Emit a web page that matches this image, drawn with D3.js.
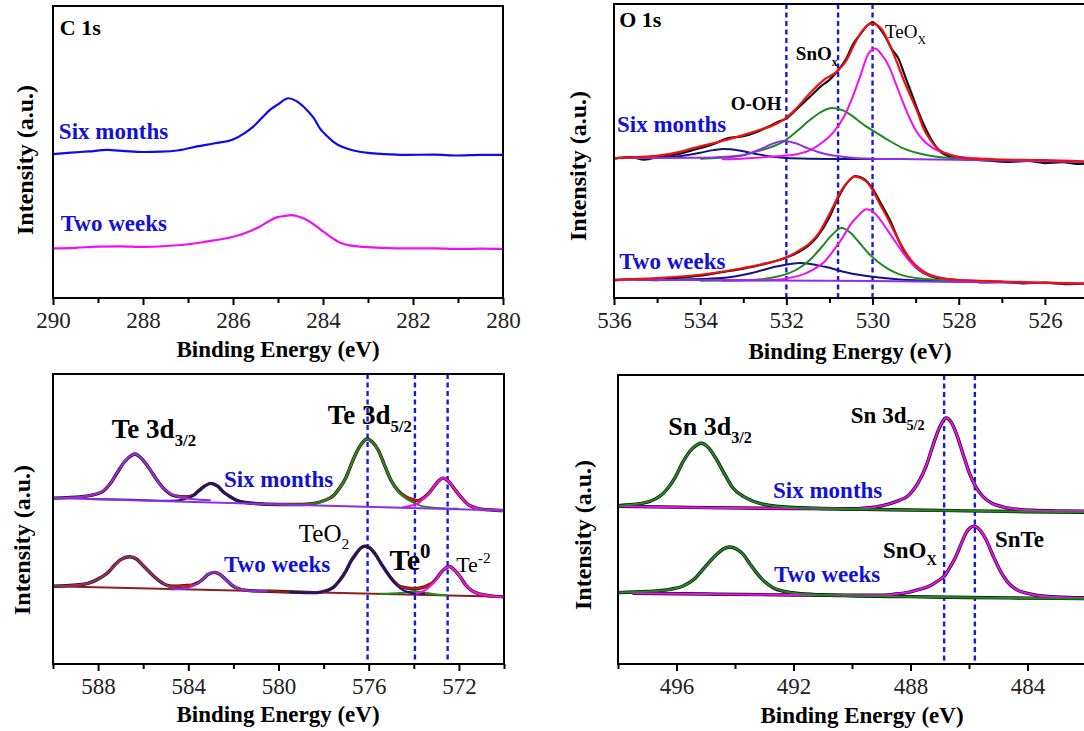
<!DOCTYPE html>
<html>
<head>
<meta charset="utf-8">
<script src="https://cdn.jsdelivr.net/npm/d3@7"></script>
<style>
  body { margin: 0; background: #fff; }
  text { font-family: 'Liberation Serif', 'Times New Roman', serif; }
</style>
</head>
<body>
<div id="chart"></div>
<script>
// values: [binding energy (eV), intensity (a.u., 0-100 of panel height)]

// C 1s
const c1sSixMonths = [[290.0, 49.3], [289.6, 49.8], [289.2, 50.2], [288.8, 50.7], [288.4, 50.3], [288.0, 50.0], [287.6, 50.1], [287.2, 50.6], [286.8, 51.9], [286.4, 53.0], [286.0, 54.3], [285.75, 56.4], [285.55, 58.7], [285.35, 61.8], [285.18, 64.4], [285.0, 66.3], [284.77, 68.4], [284.6, 67.5], [284.36, 64.4], [284.2, 61.5], [284.07, 58.1], [283.9, 55.3], [283.77, 53.5], [283.55, 51.6], [283.32, 50.5], [283.0, 49.7], [282.66, 49.3], [282.2, 49.0], [281.54, 49.1], [281.0, 48.8], [280.5, 49.0], [280.0, 49.0]]
const c1sTwoWeeks = [[290.0, 17.0], [289.5, 17.2], [289.0, 17.6], [288.5, 17.7], [288.0, 17.5], [287.5, 17.8], [287.0, 18.4], [286.6, 19.3], [286.2, 20.3], [285.85, 21.6], [285.6, 23.0], [285.41, 24.4], [285.2, 26.3], [285.03, 27.6], [284.85, 28.1], [284.7, 28.4], [284.55, 27.9], [284.36, 26.7], [284.15, 24.6], [283.99, 22.7], [283.8, 20.6], [283.62, 18.9], [283.4, 18.0], [283.18, 17.6], [282.7, 17.2], [282.29, 17.0], [281.5, 17.0], [281.0, 16.8], [280.5, 16.9], [280.0, 16.8]]

// O 1s, six months
const o1sSixRaw = [[536.0, 47.4], [535.6, 47.9], [535.3, 47.1], [534.9, 48.2], [534.5, 49.0], [534.1, 50.6], [533.7, 52.3], [533.35, 54.4], [533.0, 55.0], [532.7, 56.4], [532.4, 58.4], [532.15, 60.2], [532.0, 61.0], [531.8, 63.7], [531.6, 66.4], [531.4, 69.2], [531.2, 72.0], [531.0, 74.2], [530.8, 77.4], [530.6, 81.7], [530.45, 86.4], [530.3, 89.4], [530.1, 93.0], [530.0, 93.8], [529.85, 92.0], [529.7, 88.8], [529.55, 84.6], [529.4, 81.5], [529.25, 75.6], [529.1, 69.8], [528.95, 63.8], [528.8, 58.6], [528.6, 53.0], [528.4, 49.4], [528.2, 48.1], [528.0, 47.3], [527.6, 47.0], [527.2, 46.6], [526.8, 46.3], [526.4, 46.6], [526.0, 45.9], [525.6, 46.2], [525.2, 45.6], [525.0, 45.8]]
const o1sSixFit = [[536.0, 47.6], [535.5, 47.9], [534.93, 48.5], [534.5, 49.6], [534.16, 51.0], [533.8, 52.3], [533.39, 53.8], [533.0, 55.4], [532.61, 57.2], [532.3, 58.8], [532.07, 60.6], [531.8, 64.0], [531.45, 69.7], [531.1, 74.5], [530.83, 77.0], [530.6, 81.0], [530.45, 85.5], [530.22, 91.2], [530.02, 93.4], [529.85, 92.4], [529.75, 90.6], [529.6, 86.0], [529.44, 80.4], [529.3, 75.0], [529.13, 69.1], [528.95, 63.0], [528.82, 57.8], [528.65, 53.6], [528.51, 51.0], [528.3, 49.2], [528.05, 48.1], [527.58, 47.3], [527.0, 47.1], [526.0, 46.9], [525.0, 46.4]]
const o1sSixHigh = [[536.0, 47.6], [535.0, 47.7], [534.5, 48.2], [534.0, 49.4], [533.7, 50.3], [533.45, 50.7], [533.1, 50.2], [532.7, 49.0], [532.3, 48.0], [532.0, 47.6], [531.5, 47.4], [530.5, 47.3], [529.5, 47.3]]
const o1sSixOOH = [[536.0, 47.6], [535.0, 47.6], [534.2, 47.7], [533.6, 47.9], [533.0, 48.6], [532.6, 50.6], [532.3, 52.6], [532.07, 53.4], [531.8, 52.7], [531.5, 50.9], [531.1, 49.0], [530.6, 47.9], [530.0, 47.4], [529.0, 47.2], [528.0, 47.0], [527.0, 46.8], [526.0, 46.5], [525.0, 46.2]]
const o1sSixSnOx = [[534.0, 47.4], [533.16, 48.1], [532.7, 49.8], [532.3, 51.6], [532.07, 53.2], [531.75, 56.8], [531.45, 60.6], [531.2, 63.2], [530.95, 64.6], [530.7, 63.9], [530.45, 61.7], [530.2, 58.9], [529.9, 56.1], [529.6, 53.4], [529.3, 51.0], [529.0, 49.5], [528.7, 48.5], [528.36, 47.8], [527.8, 47.3], [527.2, 47.1]]
const o1sSixTeOx = [[533.5, 47.2], [533.16, 47.3], [532.5, 47.9], [531.76, 48.9], [531.4, 50.6], [531.14, 53.2], [530.9, 56.5], [530.68, 61.2], [530.5, 67.0], [530.3, 74.8], [530.1, 83.0], [529.94, 84.9], [529.8, 83.0], [529.6, 78.2], [529.45, 72.5], [529.3, 66.8], [529.15, 61.5], [528.98, 56.6], [528.8, 53.3], [528.6, 51.0], [528.3, 49.2], [528.05, 48.1], [527.6, 47.5], [527.2, 47.3]]

// O 1s, two weeks
const o1sTwoRaw = [[536.0, 6.0], [535.5, 6.4], [535.0, 6.1], [534.5, 6.9], [534.0, 7.6], [533.5, 8.8], [533.0, 10.0], [532.5, 11.6], [532.0, 13.8], [531.6, 16.6], [531.3, 20.6], [531.0, 27.5], [530.8, 34.0], [530.6, 39.0], [530.4, 41.5], [530.2, 40.5], [530.0, 37.2], [529.8, 32.0], [529.6, 26.6], [529.4, 19.8], [529.2, 14.2], [529.0, 10.5], [528.8, 8.4], [528.5, 6.7], [528.2, 6.2], [527.8, 5.8], [527.4, 5.3], [527.0, 5.5], [526.5, 5.0], [526.0, 5.2], [525.5, 4.7], [525.0, 4.9]]
const o1sTwoFit = [[536.0, 6.2], [535.0, 6.8], [534.0, 7.9], [533.0, 10.2], [532.5, 11.7], [532.03, 13.6], [531.7, 16.2], [531.45, 18.7], [531.25, 22.0], [531.07, 26.6], [530.9, 31.5], [530.76, 35.7], [530.6, 39.0], [530.41, 41.3], [530.25, 40.6], [530.1, 38.9], [530.0, 36.8], [529.85, 32.5], [529.67, 27.7], [529.5, 22.7], [529.36, 18.7], [529.2, 14.8], [529.05, 11.9], [528.85, 9.4], [528.67, 7.9], [528.4, 6.8], [528.05, 6.2], [527.0, 5.6], [526.0, 5.2], [525.0, 4.9]]
const o1sTwoOOH = [[535.5, 6.2], [534.5, 6.3], [533.5, 6.8], [532.8, 8.5], [532.2, 10.8], [531.68, 11.9], [531.1, 10.6], [530.6, 8.7], [530.0, 7.2], [529.3, 6.2], [528.5, 5.8], [528.0, 5.7]]
const o1sTwoSnOx = [[534.0, 5.9], [533.0, 6.0], [532.2, 7.3], [531.7, 10.2], [531.45, 13.0], [531.2, 17.0], [530.95, 21.3], [530.72, 23.8], [530.5, 22.0], [530.3, 18.7], [530.1, 15.3], [529.9, 12.6], [529.65, 10.0], [529.4, 8.2], [528.9, 6.6], [528.2, 6.0], [527.5, 5.7]]
const o1sTwoTeOx = [[533.5, 5.9], [532.5, 6.0], [531.7, 7.6], [531.4, 9.5], [531.1, 12.6], [530.9, 16.3], [530.7, 20.4], [530.5, 25.2], [530.35, 27.7], [530.14, 30.2], [530.0, 29.5], [529.85, 27.2], [529.65, 23.0], [529.45, 18.7], [529.25, 14.5], [529.1, 11.9], [528.9, 9.5], [528.7, 7.9], [528.4, 6.8], [528.1, 6.2], [527.0, 5.6]]
const o1sTwoBase = [[536.0, 6.2], [533.0, 6.0], [530.0, 5.8], [527.0, 5.3], [525.0, 4.9]]

// Te 3d, six months
const te3dSixEnv = [[590.0, 57.2], [588.7, 57.7], [587.86, 59.2], [587.5, 61.8], [587.14, 66.1], [586.8, 70.0], [586.5, 72.0], [586.36, 72.4], [586.1, 71.0], [585.71, 67.2], [585.4, 63.5], [585.14, 60.9], [584.6, 58.0], [584.1, 57.6], [583.8, 58.1], [583.57, 59.5], [583.3, 61.2], [583.0, 62.3], [582.7, 61.3], [582.43, 59.2], [582.1, 57.5], [581.86, 56.4], [581.29, 55.5], [580.0, 55.0], [579.0, 55.0], [578.43, 55.4], [578.0, 56.3], [577.57, 58.0], [577.3, 60.6], [577.0, 64.4], [576.75, 69.3], [576.5, 73.6], [576.25, 76.6], [576.07, 77.6], [575.85, 76.6], [575.57, 73.6], [575.3, 68.6], [575.0, 63.2], [574.7, 59.8], [574.43, 58.0], [574.0, 56.6], [573.8, 56.3], [573.57, 57.3], [573.3, 59.2], [573.07, 61.5], [572.85, 63.5], [572.69, 64.1], [572.45, 62.9], [572.14, 59.8], [571.85, 57.0], [571.57, 54.9], [571.3, 53.9], [571.0, 53.4], [570.5, 53.1], [570.0, 52.9]]
const te3dSixBase = [[590.0, 57.2], [570.0, 52.9]]
const te3dSix32 = [[590.0, 57.2], [589.0, 57.4], [588.3, 58.3], [587.86, 59.4], [587.5, 61.8], [587.14, 66.1], [586.8, 70.0], [586.5, 72.0], [586.36, 72.4], [586.1, 71.0], [585.71, 67.2], [585.4, 63.5], [585.14, 60.9], [584.8, 58.8], [584.43, 57.7], [583.86, 56.9], [583.0, 56.5]]
const te3dSixSat = [[588.5, 56.9], [586.5, 56.6], [585.0, 56.3], [584.5, 56.4], [584.14, 56.9], [583.8, 58.0], [583.57, 59.5], [583.3, 61.2], [583.0, 62.3], [582.7, 61.3], [582.43, 59.2], [582.1, 57.5], [581.86, 56.4], [581.29, 55.5], [580.5, 55.2]]
const te3dSix52 = [[580.0, 55.0], [579.0, 55.0], [578.43, 55.3], [578.0, 56.2], [577.57, 58.0], [577.3, 60.6], [577.0, 64.4], [576.75, 69.3], [576.5, 73.6], [576.25, 76.6], [576.07, 77.6], [575.85, 76.6], [575.57, 73.6], [575.3, 68.6], [575.0, 63.2], [574.7, 59.6], [574.43, 57.5], [574.0, 55.6], [573.71, 54.6], [573.0, 53.8], [572.0, 53.5]]
const te3dSixTe2 = [[574.5, 54.0], [574.14, 54.6], [573.8, 55.4], [573.57, 56.9], [573.3, 59.0], [573.07, 61.5], [572.85, 63.5], [572.69, 64.1], [572.45, 62.9], [572.14, 59.8], [571.85, 57.0], [571.57, 54.9], [571.3, 53.9], [571.0, 53.4], [570.5, 53.1], [570.0, 52.9]]

// Te 3d, two weeks
const te3dTwoEnv = [[590.0, 26.8], [588.71, 27.4], [587.86, 29.9], [587.5, 32.0], [587.29, 33.9], [587.0, 36.0], [586.6, 37.0], [586.3, 36.2], [586.0, 33.9], [585.6, 30.8], [585.29, 28.7], [584.71, 26.8], [584.14, 27.0], [583.8, 27.3], [583.57, 28.0], [583.3, 29.6], [583.14, 30.8], [582.83, 31.6], [582.6, 30.9], [582.36, 29.3], [582.1, 27.4], [581.86, 26.2], [581.29, 25.3], [580.0, 25.0], [578.29, 24.6], [577.9, 25.2], [577.57, 26.4], [577.3, 28.7], [577.0, 32.2], [576.8, 35.3], [576.57, 37.9], [576.35, 40.0], [576.17, 40.6], [575.95, 40.0], [575.71, 37.9], [575.45, 34.6], [575.14, 31.0], [574.85, 28.2], [574.57, 26.6], [574.0, 26.0], [573.71, 26.2], [573.4, 27.0], [573.14, 28.2], [572.95, 29.9], [572.79, 31.6], [572.6, 33.0], [572.43, 33.6], [572.2, 32.4], [571.93, 29.9], [571.7, 27.3], [571.43, 25.3], [571.15, 24.3], [570.86, 23.8], [570.5, 23.4], [570.0, 23.2]]
const te3dTwoBase = [[590.0, 26.8], [570.0, 23.2]]
const te3dTwo32 = [[590.0, 26.8], [589.0, 27.1], [588.3, 28.2], [587.86, 29.9], [587.5, 32.0], [587.29, 33.9], [587.0, 36.0], [586.6, 37.0], [586.3, 36.2], [586.0, 33.9], [585.6, 30.8], [585.29, 28.7], [584.9, 26.9], [584.5, 26.0], [584.0, 25.8]]
const te3dTwoSat = [[584.8, 25.7], [584.14, 26.1], [583.8, 26.9], [583.57, 27.8], [583.3, 29.6], [583.14, 30.8], [582.83, 31.6], [582.6, 30.9], [582.36, 29.3], [582.1, 27.4], [581.86, 26.2], [581.5, 25.5], [581.29, 25.3], [580.5, 25.0]]
const te3dTwoTeO2 = [[579.5, 24.8], [578.29, 24.6], [577.9, 25.2], [577.57, 26.4], [577.3, 28.7], [577.0, 32.2], [576.8, 35.3], [576.57, 37.9], [576.35, 40.0], [576.17, 40.6], [575.95, 40.0], [575.71, 37.9], [575.45, 34.6], [575.14, 31.0], [574.85, 28.0], [574.57, 25.9], [574.3, 24.9], [574.0, 24.4], [573.5, 24.2]]
const te3dTwoTe0 = [[575.5, 24.2], [575.0, 24.3], [574.5, 24.6], [574.0, 25.1], [573.5, 24.6], [573.0, 24.0], [572.5, 23.7]]
const te3dTwoTe2 = [[573.9, 24.2], [573.71, 24.7], [573.4, 26.0], [573.14, 27.8], [572.95, 29.8], [572.79, 31.6], [572.6, 33.0], [572.43, 33.6], [572.2, 32.4], [571.93, 29.9], [571.7, 27.3], [571.43, 25.3], [571.15, 24.3], [570.86, 23.8], [570.5, 23.4], [570.0, 23.2]]

// Sn 3d
const sn3dSix32 = [[498.0, 54.8], [497.5, 55.2], [496.91, 56.3], [496.6, 57.8], [496.34, 60.3], [496.05, 64.5], [495.77, 70.1], [495.45, 74.6], [495.15, 76.4], [494.9, 74.8], [494.63, 70.7], [494.35, 65.6], [494.07, 60.9], [493.7, 57.9], [493.38, 56.3], [492.59, 54.6], [491.22, 53.9], [490.0, 53.6], [488.0, 53.3], [486.0, 53.0], [484.0, 52.7], [482.0, 52.5]]
const sn3dSix52 = [[498.0, 54.6], [495.0, 54.1], [492.0, 53.8], [490.08, 53.7], [489.5, 54.0], [488.95, 54.8], [488.5, 56.2], [488.04, 58.6], [487.75, 62.5], [487.47, 68.4], [487.3, 73.5], [487.13, 78.7], [486.95, 83.0], [486.79, 85.1], [486.6, 83.5], [486.44, 79.9], [486.2, 72.5], [485.99, 66.1], [485.75, 61.0], [485.53, 58.0], [485.2, 55.5], [484.85, 54.4], [484.3, 53.5], [483.83, 53.2], [483.0, 53.0], [482.0, 52.9]]
const sn3dTwo32 = [[498.0, 24.7], [497.0, 25.1], [496.68, 25.3], [496.2, 25.9], [495.77, 27.0], [495.4, 29.3], [495.09, 32.8], [494.85, 35.6], [494.63, 37.9], [494.4, 39.8], [494.18, 40.5], [493.95, 39.8], [493.72, 37.9], [493.5, 34.8], [493.27, 31.6], [493.0, 28.6], [492.7, 26.4], [492.3, 25.1], [491.9, 24.5], [490.08, 23.6], [488.0, 23.3], [486.0, 23.0], [484.0, 22.8], [482.0, 22.6]]
const sn3dTwo52 = [[497.5, 24.5], [495.0, 24.2], [492.0, 23.9], [490.0, 23.8], [488.95, 23.8], [488.5, 24.2], [488.04, 24.9], [487.7, 25.8], [487.35, 27.0], [487.1, 28.5], [486.84, 30.5], [486.65, 33.5], [486.44, 37.4], [486.25, 42.0], [486.1, 45.4], [485.95, 47.2], [485.82, 47.7], [485.65, 46.6], [485.42, 43.1], [485.2, 38.0], [484.96, 32.8], [484.7, 28.6], [484.4, 25.9], [484.0, 24.4], [483.71, 23.8], [483.0, 23.2], [482.0, 22.9]]

// tick values and reference lines
const c1sTicks = [290, 288, 286, 284, 282, 280]
const c1sMinor = [289, 287, 285, 283, 281]
const o1sTicks = [536, 534, 532, 530, 528, 526]
const o1sMinor = [535, 533, 531, 529, 527, 525]
const o1sRefLines = [532.0, 530.8, 530.0]
const te3dTicks = [588, 584, 580, 576, 572]
const te3dMinor = [590, 586, 582, 578, 574, 570]
const te3dRefLines = [576.05, 573.95, 572.5]
const sn3dTicks = [496, 492, 488, 484]
const sn3dMinor = [498, 494, 490, 486, 482]
const sn3dRefLines = [486.85, 485.8]

const C = {
  blue: '#0b0bf2',
  magenta: '#f20ef2',
  red: '#ee1111',
  green: '#1f8a1f',
  navy: '#14147e',
  purple: '#8e2ee8',
  mauve: '#8a2e74',
  maroon: '#8e1e1e',
  black: '#111111',
  label: '#1212d6'
}

const W = 1084
const H = 731
const svg = d3.select('#chart').append('svg')
  .attr('width', W)
  .attr('height', H)
  .style('display', 'block')

function addText (g, x, y, spec, opts) {
  const t = g.append('text')
    .attr('x', x).attr('y', y)
    .attr('font-size', opts.size)
    .attr('font-weight', opts.weight || 'bold')
    .attr('fill', opts.color || '#000')
  t.append('tspan').text(spec.t)
  if (spec.sub) {
    t.append('tspan').attr('dy', opts.size * 0.3).attr('font-size', opts.size * 0.62).text(spec.sub)
  }
  if (spec.sup) {
    t.append('tspan').attr('dy', -opts.size * 0.4).attr('font-size', opts.size * 0.7).text(spec.sup)
  }
  return t
}

function drawPanel (p, idx) {
  const x = d3.scaleLinear().domain(p.domain).range([p.left, p.right])
  const y = d3.scaleLinear().domain([0, 100]).range([p.bottom, p.top])
  const g = svg.append('g')

  const clipId = 'clip' + idx
  svg.append('clipPath').attr('id', clipId)
    .append('rect')
    .attr('x', p.left).attr('y', p.top)
    .attr('width', p.right - p.left).attr('height', p.bottom - p.top)

  const line = d3.line()
    .x(d => x(d[0]))
    .y(d => y(d[1]))
    .curve(d3.curveMonotoneX)

  const plot = g.append('g').attr('clip-path', `url(#${clipId})`)

  // dashed reference lines
  p.refLines.forEach(e => {
    plot.append('line')
      .attr('x1', x(e)).attr('x2', x(e))
      .attr('y1', p.top).attr('y2', p.bottom)
      .attr('stroke', '#1717e6')
      .attr('stroke-width', 2.4)
      .attr('stroke-dasharray', '5,3.5')
  })

  p.series.forEach(s => {
    plot.append('path')
      .datum(s.data)
      .attr('fill', 'none')
      .attr('stroke', s.color)
      .attr('stroke-width', s.width || 2)
      .attr('stroke-linejoin', 'round')
      .attr('d', line)
  })

  // frame
  g.append('rect')
    .attr('x', p.left).attr('y', p.top)
    .attr('width', p.right - p.left).attr('height', p.bottom - p.top)
    .attr('fill', 'none')
    .attr('stroke', '#000')
    .attr('stroke-width', 2)

  // bottom axis
  const axis = g.append('g')
    .attr('transform', `translate(0,${p.bottom})`)
    .call(d3.axisBottom(x).tickValues(p.ticks).tickSize(7).tickPadding(7).tickFormat(d3.format('d')))
  axis.select('.domain').remove()
  axis.selectAll('line').attr('stroke-width', 2)
  axis.selectAll('text')
    .attr('font-size', 23)
    .attr('font-family', "'Liberation Serif', 'Times New Roman', serif")
    .attr('fill', '#222')

  const minor = g.append('g')
    .attr('transform', `translate(0,${p.bottom})`)
    .call(d3.axisBottom(x).tickValues(p.minor).tickSize(5).tickFormat(''))
  minor.select('.domain').remove()
  minor.selectAll('line').attr('stroke-width', 2)

  g.append('text')
    .attr('x', p.xLabel[0]).attr('y', p.xLabel[1])
    .attr('text-anchor', 'middle')
    .attr('font-size', 23)
    .attr('font-weight', 'bold')
    .text('Binding Energy (eV)')

  g.append('text')
    .attr('transform', `translate(${p.yLabel[0]},${p.yLabel[1]}) rotate(-90)`)
    .attr('text-anchor', 'middle')
    .attr('font-size', 24)
    .attr('font-weight', 'bold')
    .text('Intensity (a.u.)')

  p.labels.forEach(l => {
    addText(g, x(l.at[0]), y(l.at[1]), l, { size: l.size, weight: l.weight, color: l.color })
  })
}

const panels = [
  {
    domain: [290, 280], left: 53, right: 503, top: 6, bottom: 298,
    ticks: c1sTicks, minor: c1sMinor, refLines: [],
    xLabel: [278, 357], yLabel: [33, 160],
    series: [
      { data: c1sSixMonths, color: C.blue, width: 2.2 },
      { data: c1sTwoWeeks, color: C.magenta, width: 2.2 }
    ],
    labels: [
      { t: 'C 1s', at: [289.85, 90.1], size: 22 },
      { t: 'Six months', at: [289.87, 54.5], size: 23, color: C.label },
      { t: 'Two weeks', at: [289.83, 22.9], size: 23, color: C.label }
    ]
  },
  {
    domain: [536, 525], left: 614, right: 1088, top: 4, bottom: 298,
    ticks: o1sTicks, minor: o1sMinor, refLines: o1sRefLines,
    xLabel: [850, 359], yLabel: [586, 166],
    series: [
      { data: o1sSixRaw, color: C.black, width: 2.2 },
      { data: o1sSixHigh, color: C.navy },
      { data: o1sSixSnOx, color: C.green },
      { data: o1sSixTeOx, color: C.magenta },
      { data: o1sSixOOH, color: C.purple },
      { data: o1sSixFit, color: C.red, width: 2.2 },
      { data: o1sTwoRaw, color: C.black, width: 2.2 },
      { data: o1sTwoOOH, color: C.navy },
      { data: o1sTwoSnOx, color: C.green },
      { data: o1sTwoTeOx, color: C.magenta },
      { data: o1sTwoBase, color: C.purple },
      { data: o1sTwoFit, color: C.red, width: 2.2 }
    ],
    labels: [
      { t: 'O 1s', at: [535.88, 92.2], size: 22 },
      { t: 'Six months', at: [535.93, 56.5], size: 23, color: C.label },
      { t: 'Two weeks', at: [535.88, 10.0], size: 23, color: C.label },
      { t: 'O-OH', at: [533.29, 64.0], size: 19 },
      { t: 'SnO', sub: 'x', at: [531.78, 81.0], size: 19 },
      { t: 'TeO', sub: 'X', at: [529.71, 88.4], size: 19, weight: 'normal' }
    ]
  },
  {
    domain: [590, 570], left: 53, right: 504, top: 374, bottom: 664,
    ticks: te3dTicks, minor: te3dMinor, refLines: te3dRefLines,
    xLabel: [278, 722], yLabel: [30, 540],
    series: [
      { data: te3dSixEnv, color: C.black, width: 3.4 },
      { data: te3dSixEnv, color: C.red, width: 2 },
      { data: te3dSixSat, color: C.navy },
      { data: te3dSix52, color: C.green },
      { data: te3dSixTe2, color: C.magenta },
      { data: te3dSix32, color: C.purple },
      { data: te3dSixBase, color: C.purple },
      { data: te3dTwoEnv, color: C.black, width: 3.4 },
      { data: te3dTwoEnv, color: C.red, width: 2 },
      { data: te3dTwoBase, color: C.maroon },
      { data: te3dTwo32, color: C.mauve },
      { data: te3dTwoSat, color: C.purple },
      { data: te3dTwoTe0, color: C.green },
      { data: te3dTwoTeO2, color: C.navy },
      { data: te3dTwoTe2, color: C.magenta }
    ],
    labels: [
      { t: 'Te 3d', sub: '3/2', at: [587.39, 78.0], size: 27 },
      { t: 'Te 3d', sub: '5/2', at: [577.82, 82.8], size: 27 },
      { t: 'Six months', at: [582.42, 61.1], size: 23, color: C.label },
      { t: 'Two weeks', at: [582.42, 31.8], size: 23, color: C.label },
      { t: 'TeO', sub: '2', at: [579.1, 42.1], size: 25, weight: 'normal' },
      { t: 'Te', sup: '0', at: [575.08, 32.5], size: 30 },
      { t: 'Te', sup: '-2', at: [572.12, 31.8], size: 22, weight: 'normal' }
    ]
  },
  {
    domain: [498, 482], left: 618, right: 1086, top: 375, bottom: 664,
    ticks: sn3dTicks, minor: sn3dMinor, refLines: sn3dRefLines,
    xLabel: [862, 723], yLabel: [591, 535],
    series: [
      { data: sn3dSix32, color: C.black, width: 3.4 },
      { data: sn3dSix52, color: C.black, width: 3.4 },
      { data: sn3dSix52, color: C.magenta },
      { data: sn3dSix32, color: C.green },
      { data: sn3dTwo32, color: C.black, width: 3.4 },
      { data: sn3dTwo52, color: C.black, width: 3.4 },
      { data: sn3dTwo52, color: C.magenta },
      { data: sn3dTwo32, color: C.green }
    ],
    labels: [
      { t: 'Sn 3d', sub: '3/2', at: [496.28, 79.3], size: 26 },
      { t: 'Sn 3d', sub: '5/2', at: [490.04, 83.4], size: 23 },
      { t: 'Six months', at: [492.7, 57.5], size: 23, color: C.label },
      { t: 'Two weeks', at: [492.67, 28.4], size: 23, color: C.label },
      { t: 'SnO', sub: 'X', at: [488.94, 36.7], size: 23 },
      { t: 'SnTe', at: [485.11, 40.5], size: 23 }
    ]
  }
]

panels.forEach(drawPanel)
</script>
</body>
</html>
